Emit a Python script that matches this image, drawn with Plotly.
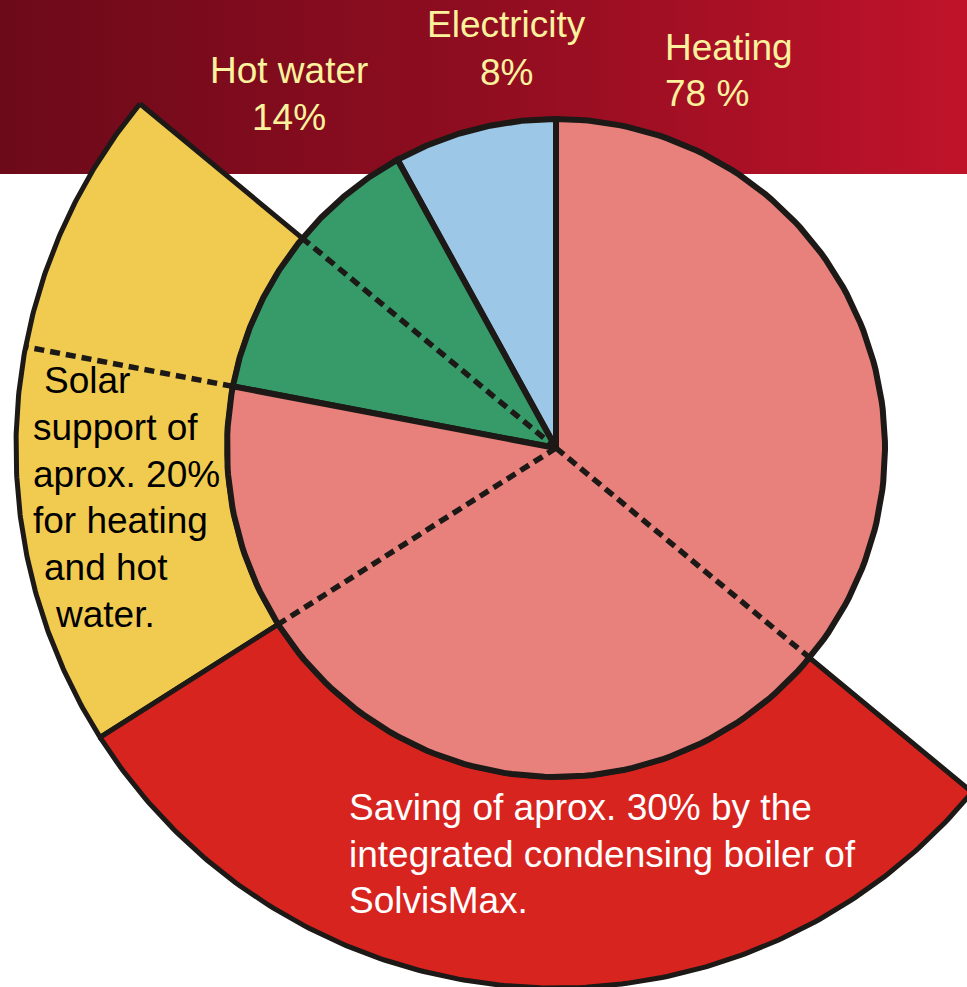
import numpy as np
import plotly.graph_objects as go

# ---------------- data ----------------
inner_labels = ["Electricity", "Hot water", "Heating"]
inner_values = [8, 14, 78]            # percent, counter-clockwise from 12 o'clock
inner_colors = ["#9DC7E7", "#379B69", "#E8817B"]

outer_labels = ["Solar support", "Saving"]
outer_values = [20, 30]               # percent of the circle
outer_start = 14                      # percent where the outer ring starts
outer_colors = ["#F0CB4F", "#D8241F"]

top_label_lines = [["Electricity", "8%"], ["Hot water", "14%"], ["Heating", "78 %"]]
solar_lines = ["Solar", "support of", "aprox. 20%", "for heating", "and hot", "water."]
saving_lines = ["Saving of aprox. 30% by the", "integrated condensing boiler of", "SolvisMax."]

# ---------------- layout constants ----------------
W, H = 967, 987
CX, CY = 556, 448
R_IN, R_OUT = 329, 540
EDGE = "#1C1917"
FS = 37

def pt(pct, r):
    a = np.deg2rad(np.asarray(pct) * 3.6)
    return CX - r * np.sin(a), CY - r * np.cos(a)

def arc(p0, p1, r, n=200):
    return pt(np.linspace(p0, p1, n), r)

fig = go.Figure()

# background band with horizontal gradient
fig.add_trace(go.Scatter(
    x=[0, W, W, 0, 0], y=[0, 0, 174, 174, 0], mode="lines", fill="toself",
    line=dict(width=0), fillgradient=dict(type="horizontal",
        colorscale=[[0, "#6C0A1A"], [0.5, "#900D20"], [1, "#C0132A"]]),
    hoverinfo="skip", showlegend=False))

# outer ring sectors
start = outer_start
outer_bounds = []
for lab, v, c in zip(outer_labels, outer_values, outer_colors):
    x1, y1 = arc(start, start + v, R_OUT)
    x2, y2 = arc(start + v, start, R_IN)
    xs = np.concatenate([x1, x2, x1[:1]])
    ys = np.concatenate([y1, y2, y1[:1]])
    fig.add_trace(go.Scatter(x=xs, y=ys, mode="lines", fill="toself", fillcolor=c,
                             line=dict(color=EDGE, width=5), name=lab,
                             hoverinfo="name", showlegend=False))
    outer_bounds.append((start, start + v))
    start += v

# inner pie
cum = np.concatenate([[0], np.cumsum(inner_values)])
for lab, c, p0, p1 in zip(inner_labels, inner_colors, cum[:-1], cum[1:]):
    ax, ay = arc(p0, p1, R_IN)
    xs = np.concatenate([[CX], ax, [CX]])
    ys = np.concatenate([[CY], ay, [CY]])
    fig.add_trace(go.Scatter(x=xs, y=ys, mode="lines", fill="toself", fillcolor=c,
                             line=dict(color=EDGE, width=6), name=lab,
                             hoverinfo="name", showlegend=False))

# dashed split lines inside the pie (outer ring boundaries)
DASH = dict(color=EDGE, width=5.5, dash="10px,6px")
dash_pcts = [outer_bounds[0][0], outer_bounds[0][1], outer_bounds[1][1]]
for p in dash_pcts:
    ex, ey = pt(p, R_IN)
    fig.add_trace(go.Scatter(x=[CX, ex], y=[CY, ey], mode="lines", line=DASH,
                             hoverinfo="skip", showlegend=False))
# dashed line inside solar ring: hot water / heating split
p = cum[2]
x0, y0 = pt(p, R_IN)
x1, y1 = pt(p, R_OUT)
fig.add_trace(go.Scatter(x=[x0, x1], y=[y0, y1], mode="lines", line=DASH,
                         hoverinfo="skip", showlegend=False))

# ---------------- text ----------------
ann = []
def add_line(text, x, baseline, color, xanchor):
    ann.append(dict(text=text, x=x, y=baseline - 0.35 * FS, xref="x", yref="y",
                    xanchor=xanchor, yanchor="middle", showarrow=False,
                    font=dict(family="Liberation Sans, Arial", size=FS, color=color)))

LABEL_COLOR = "#FBF29E"
top_pos = [(506, [37, 85], "center"), (288.5, [83, 130], "center"), (663, [60, 106], "left")]
for lines, (x, bls, anc) in zip(top_label_lines, top_pos):
    for t, b in zip(lines, bls):
        add_line(t, x, b, LABEL_COLOR, anc)

solar_x = [42, 31, 31, 31, 42, 53]
solar_b = [393, 440, 487, 533, 580, 627]
for t, x, b in zip(solar_lines, solar_x, solar_b):
    add_line(t, x, b, "black", "left")

saving_b = [820, 867, 913]
for t, b in zip(saving_lines, saving_b):
    add_line(t, 347, b, "white", "left")

fig.update_layout(
    width=W, height=H, margin=dict(l=0, r=0, t=0, b=0),
    paper_bgcolor="white", plot_bgcolor="white",
    xaxis=dict(range=[0, W], visible=False, fixedrange=True),
    yaxis=dict(range=[H, 0], visible=False, fixedrange=True),
    annotations=ann, showlegend=False,
)

fig.write_html("out.html", config={"displayModeBar": False},
               post_script="document.body.style.margin='0';document.body.style.overflow='hidden';")
